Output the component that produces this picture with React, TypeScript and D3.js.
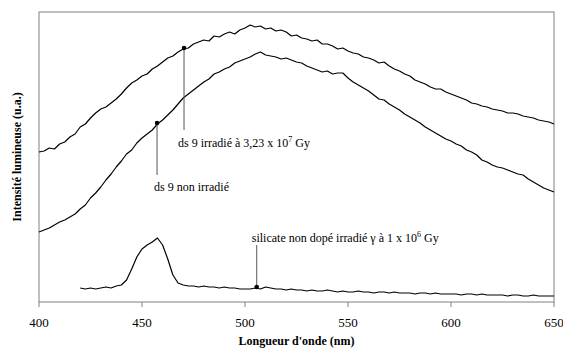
import React from "react";
import * as d3 from "d3";

// wavelength grid (nm), one sample every 2.5 nm
const wavelengths = d3.range(400, 650.01, 2.5);

// ds 9 irradié à 3,23 x 10^7 Gy
const irradie = [
  150, 151, 154, 153, 158, 160, 165, 168, 175, 178,
  184, 189, 193, 195, 199, 203, 208, 214, 219, 222,
  226, 228, 233, 236, 240, 244, 246, 250, 253, 254,
  258, 260, 262, 261, 266, 265, 268, 270, 268, 272,
  274, 277, 275, 276, 273, 274, 271, 272, 270, 266,
  267, 264, 263, 261, 262, 258, 258, 256, 253, 254,
  251, 249, 248, 245, 244, 242, 239, 240, 236, 233,
  231, 228, 226, 222, 220, 218, 215, 213, 213, 210,
  208, 206, 204, 202, 199, 198, 196, 195, 193, 192,
  191, 189, 189, 188, 186, 185, 184, 182, 181, 180,
  178,
];

// ds 9 non irradié
const nonIrradie = [
  70, 72, 74, 77, 80, 82, 85, 88, 93, 97,
  104, 109, 115, 122, 128, 135, 141, 148, 152, 159,
  164, 168, 172, 178, 182, 187, 192, 198, 204, 208,
  212, 216, 220, 223, 228, 230, 233, 235, 239, 241,
  243, 245, 248, 250, 247, 246, 245, 243, 244, 242,
  240, 239, 236, 234, 232, 230, 231, 228, 229, 229,
  224, 220, 217, 214, 211, 207, 203, 202, 198, 195,
  192, 188, 185, 182, 179, 175, 172, 169, 166, 163,
  161, 158, 156, 152, 150, 147, 142, 140, 137, 135,
  134, 132, 130, 128, 127, 123, 120, 117, 114, 112,
  110,
];

// silicate non dopé irradié γ à 1 x 10^6 Gy (starts at 420 nm)
const silicate = [
  null, null, null, null, null, null, null, null, 14, 13,
  14, 13, 14, 15, 14, 16, 17, 22, 33, 45,
  53, 57, 60, 64, 57, 43, 27, 19, 17, 16,
  16, 15, 16, 15, 15, 14, 15, 14, 14, 13,
  13, 13, 14, 13, 15, 14, 13, 13, 12, 13,
  12, 12, 11, 12, 11, 11, 12, 11, 10, 11,
  10, 10, 11, 10, 10, 9, 10, 10, 9, 10,
  9, 9, 9, 8, 9, 9, 8, 9, 8, 8,
  8, 8, 7, 8, 8, 7, 8, 7, 7, 7,
  7, 6, 7, 7, 6, 6, 7, 6, 6, 6,
  6,
];

const seriesList = [irradie, nonIrradie, silicate];

// callouts: point on the curve, end of the leader line, text offset
const callouts = [
  { x: 470.4, y: 254, y2: 172, dx: -6, dy: 17, text: "ds 9 irradié à 3,23 x 10", sup: "7", tail: " Gy" },
  { x: 457.3, y: 179, y2: 127, dx: -3, dy: 16, text: "ds 9 non irradié", sup: "", tail: "" },
  { x: 505.7, y: 15, y2: 57, dx: -5, dy: -3, text: "silicate non dopé irradié γ à 1 x 10", sup: "6", tail: " Gy" },
];

const W = 563;
const H = 350;
const margin = { top: 12, right: 9, bottom: 48, left: 39 };
const font = "'Liberation Serif', 'Times New Roman', serif";

export default function App() {
  const x = d3
    .scaleLinear()
    .domain([400, 650])
    .range([margin.left, W - margin.right]);
  const y = d3
    .scaleLinear()
    .domain([0, 290])
    .range([H - margin.bottom, margin.top]);

  const line = d3
    .line<[number, number | null]>()
    .defined((d) => d[1] != null)
    .x((d) => x(d[0]))
    .y((d) => y(d[1] as number));

  const plotBottom = H - margin.bottom;

  return (
    <svg
      width={W}
      height={H}
      style={{ position: "absolute", left: 0, top: 0, background: "#fff" }}
      fontFamily={font}
    >
      <rect x={0} y={0} width={W} height={H} fill="#fff" />
      {/* plot frame */}
      <rect
        x={margin.left}
        y={margin.top}
        width={W - margin.left - margin.right}
        height={plotBottom - margin.top}
        fill="none"
        stroke="#808080"
        strokeWidth={1}
      />

      {/* x ticks */}
      {x.ticks(5).map((t) => (
        <g key={t} transform={`translate(${x(t)},${plotBottom})`}>
          <line y2={5} stroke="#808080" />
          <text y={25} textAnchor="middle" fontSize={13}>
            {t}
          </text>
        </g>
      ))}

      {seriesList.map((s, i) => (
        <path
          key={i}
          d={line(wavelengths.map((w, j) => [w, s[j] ?? null]) as any) || ""}
          fill="none"
          stroke="#000"
          strokeWidth={1.2}
          strokeLinejoin="round"
        />
      ))}

      {callouts.map((c, i) => {
        const cx = x(c.x);
        const cy = y(c.y);
        const ey = y(c.y2);
        return (
          <g key={i}>
            <line x1={cx} x2={cx} y1={cy} y2={ey} stroke="#555" strokeWidth={1} />
            <circle cx={cx} cy={cy} r={2.3} fill="#000" />
            <text x={cx + c.dx} y={ey + c.dy} fontSize={12}>
              {c.text}
              {c.sup && (
                <tspan fontSize={8} dy={-5}>
                  {c.sup}
                </tspan>
              )}
              {c.tail && <tspan dy={c.sup ? 5 : 0}>{c.tail}</tspan>}
            </text>
          </g>
        );
      })}

      {/* axis titles */}
      <text
        x={(margin.left + W - margin.right) / 2}
        y={345}
        textAnchor="middle"
        fontSize={12}
        fontWeight="bold"
      >
        Longueur d'onde (nm)
      </text>
      <text
        transform={`translate(21,${(margin.top + plotBottom) / 2}) rotate(-90)`}
        textAnchor="middle"
        fontSize={12}
        fontWeight="bold"
      >
        Intensité lumineuse (u.a.)
      </text>
    </svg>
  );
}
